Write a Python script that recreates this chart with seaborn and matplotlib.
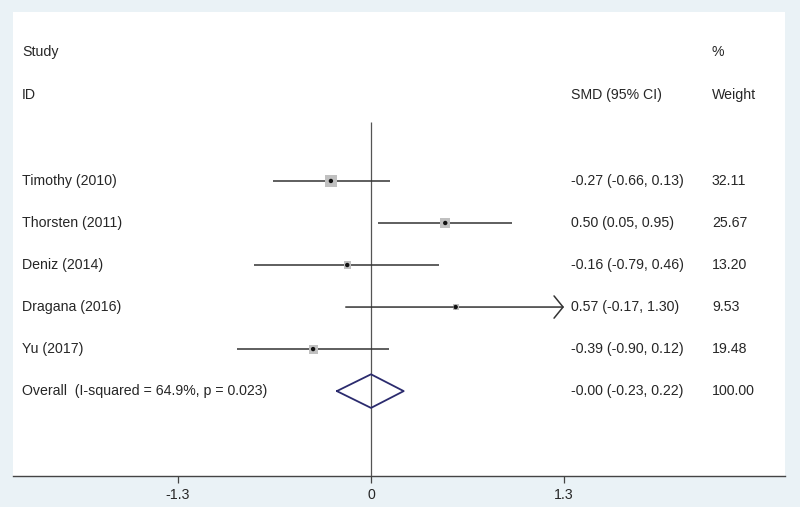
import numpy as np
import pandas as pd
import matplotlib
matplotlib.use("Agg")
import matplotlib.pyplot as plt
import seaborn as sns

sns.set_style("white")
plt.rcParams["font.family"] = ["Liberation Sans", "DejaVu Sans"]

# ==============================
# DATA
# ==============================
studies = ["Timothy (2010)", "Thorsten (2011)", "Deniz (2014)", "Dragana (2016)", "Yu (2017)"]
smd = [-0.27, 0.50, -0.16, 0.57, -0.39]
ci_lo = [-0.66, 0.05, -0.79, -0.17, -0.90]
ci_hi = [0.13, 0.95, 0.46, 1.30, 0.12]
weights = [32.11, 25.67, 13.20, 9.53, 19.48]

overall_label = "Overall  (I-squared = 64.9%, p = 0.023)"
overall_smd = -0.00
overall_lo = -0.23
overall_hi = 0.22
overall_weight = 100.00
overall_text = "-0.00 (-0.23, 0.22)"

xticks = [-1.3, 0, 1.3]
xtick_labels = ["-1.3", "0", "1.3"]

df = pd.DataFrame({"study": studies, "smd": smd, "lo": ci_lo, "hi": ci_hi, "weight": weights})
df["row"] = np.arange(len(df))

# ==============================
# FIGURE
# ==============================
bg = "#eaf2f6"
fig = plt.figure(figsize=(8, 5.07), dpi=100, facecolor=bg)
ax = fig.add_axes([13 / 800, 31 / 507, 772 / 800, 464 / 507])
ax.set_facecolor("white")

xmin, xmax = -2.411, 2.788
ax.set_xlim(xmin, xmax)
ax.set_ylim(7.02, -4.02)

clip_hi = max(xticks)
clip_lo = min(xticks)

# null line
ax.vlines(0, -1.4, 7.02, color="#555555", lw=0.9, zorder=1)

# confidence intervals
for _, r in df.iterrows():
    lo = max(r["lo"], clip_lo)
    if r["hi"] >= clip_hi:
        ax.annotate("", xy=(clip_hi, r["row"]), xytext=(lo, r["row"]),
                    arrowprops=dict(arrowstyle="->,head_length=0.65,head_width=0.8",
                                    color="#333333", lw=1.1, shrinkA=0, shrinkB=0),
                    zorder=2)
    else:
        ax.hlines(r["row"], lo, r["hi"], color="#333333", lw=1.1, zorder=2)

# weight boxes
sns.scatterplot(data=df, x="smd", y="row", marker="s", s=df["weight"] * 2.1,
                color="#c0c0c0", edgecolor="none", linewidth=0, ax=ax, zorder=3, legend=False)
sns.scatterplot(data=df, x="smd", y="row", marker="o", s=10,
                color="#111111", edgecolor="none", ax=ax, zorder=4, legend=False)

# overall diamond
orow = len(df)
dx = [overall_lo, overall_smd, overall_hi, overall_smd, overall_lo]
dy = [orow, orow - 0.4, orow, orow + 0.4, orow]
ax.plot(dx, dy, color="#2b2b6e", lw=1.3, zorder=3)

# ==============================
# TEXT COLUMNS
# ==============================
x_lab = (22 - 371) / 148.5
x_smd = (571 - 371) / 148.5
x_w = (712 - 371) / 148.5
fs = 10.2
tc = "#262626"

ax.text(x_lab, -3.07, "Study", fontsize=fs, color=tc, va="center")
ax.text(x_lab, -2.05, "ID", fontsize=fs, color=tc, va="center")
ax.text(x_w, -3.07, "%", fontsize=fs, color=tc, va="center")
ax.text(x_smd, -2.05, "SMD (95% CI)", fontsize=fs, color=tc, va="center")
ax.text(x_w, -2.05, "Weight", fontsize=fs, color=tc, va="center")

for _, r in df.iterrows():
    ax.text(x_lab, r["row"], r["study"], fontsize=fs, color=tc, va="center")
    ax.text(x_smd, r["row"], f"{r['smd']:.2f} ({r['lo']:.2f}, {r['hi']:.2f})",
            fontsize=fs, color=tc, va="center")
    ax.text(x_w, r["row"], f"{r['weight']:.2f}", fontsize=fs, color=tc, va="center")

ax.text(x_lab, orow, overall_label, fontsize=fs, color=tc, va="center")
ax.text(x_smd, orow, overall_text, fontsize=fs, color=tc, va="center")
ax.text(x_w, orow, f"{overall_weight:.2f}", fontsize=fs, color=tc, va="center")

# ==============================
# AXES STYLE
# ==============================
for side in ["top", "left", "right"]:
    ax.spines[side].set_visible(False)
ax.spines["bottom"].set_color("#444444")
ax.spines["bottom"].set_linewidth(1.0)
ax.set_yticks([])
ax.set_xticks(xticks)
ax.set_xticklabels(xtick_labels)
ax.tick_params(axis="x", direction="out", length=5, width=0.9, color="#444444",
               labelsize=fs, labelcolor=tc, pad=3.5, bottom=True)
ax.set_xlabel("")
ax.set_ylabel("")

fig.savefig("out.png", dpi=100, facecolor=bg)
